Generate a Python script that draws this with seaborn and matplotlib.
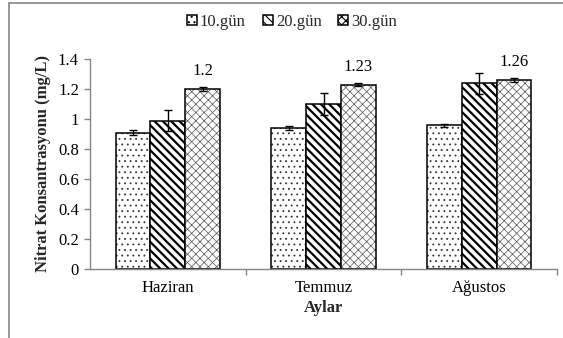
import matplotlib
matplotlib.use("Agg")
import matplotlib.pyplot as plt
import matplotlib.colors as mcolors
from matplotlib.patches import Patch
from matplotlib.lines import Line2D
import seaborn as sns
import pandas as pd

months = ["Haziran", "Temmuz", "Ağustos"]
days = ["10.gün", "20.gün", "30.gün"]
val_10 = [0.91, 0.94, 0.96]
val_20 = [0.99, 1.10, 1.24]
val_30 = [1.20, 1.23, 1.26]
err_10 = [0.015, 0.012, 0.010]
err_20 = [0.07, 0.07, 0.07]
err_30 = [0.015, 0.012, 0.015]
label_30 = ["1.2", "1.23", "1.26"]
yticks = [0, 0.2, 0.4, 0.6, 0.8, 1.0, 1.2, 1.4]
ytick_labels = ["0", "0.2", "0.4", "0.6", "0.8", "1", "1.2", "1.4"]

values = [val_10, val_20, val_30]
errors = [err_10, err_20, err_30]

df = pd.DataFrame({
    "Ay": months * 3,
    "Gün": [d for d in days for _ in months],
    "Deger": val_10 + val_20 + val_30,
})

sns.set_theme(style="white")
plt.rcParams["font.family"] = ["Liberation Serif", "DejaVu Serif"]
plt.rcParams["hatch.linewidth"] = 0.8

fig = plt.figure(figsize=(5.63, 3.38), dpi=100)
ax = fig.add_axes([90/563, 1-269/338, (557-90)/563, (269-59)/338])

sns.barplot(data=df, x="Ay", y="Deger", hue="Gün", order=months, hue_order=days,
            palette=["white", "white", "white"], width=0.67, gap=0, errorbar=None,
            legend=False, ax=ax, saturation=1)

bar_conts = list(ax.containers)

hatches = ["...", "\\\\\\\\", "xxxx"]
hatch_lw = [0.6, 1.6, 0.5]
hatch_col = ["#333333", "black", "#555555"]

for i, cont in enumerate(bar_conts):
    for p in cont.patches:
        p.set_facecolor("white")
        p.set_edgecolor("black")
        p.set_linewidth(1.1)
        p.set_hatch(hatches[i])
        if hasattr(p, "set_hatch_linewidth"):
            p.set_hatch_linewidth(hatch_lw[i])
        p._hatch_color = mcolors.to_rgba(hatch_col[i])
    xs = [p.get_x() + p.get_width()/2 for p in cont.patches]
    ax.errorbar(xs, values[i], yerr=errors[i], fmt="none", ecolor="black",
                elinewidth=1, capsize=3, capthick=1, zorder=5)

for p, lab in zip(bar_conts[2].patches, label_30):
    ax.annotate(lab, (p.get_x() + p.get_width()/2, p.get_height()),
                xytext=(0, 7), textcoords="offset points", ha="center", va="bottom",
                fontsize=12, color="black")

ax.set_ylim(0, 1.4)
ax.set_xlim(-0.5, 2.5)
ax.set_yticks(yticks)
ax.set_yticklabels(ytick_labels)
ax.set_xticks(range(len(months)))
ax.set_xticklabels(months)
ax.set_xticks([0.5, 1.5, 2.5], minor=True)

gray = "#868686"
for s in ["top", "right"]:
    ax.spines[s].set_visible(False)
for s in ["left", "bottom"]:
    ax.spines[s].set_color(gray)
    ax.spines[s].set_linewidth(1)

ax.tick_params(axis="y", which="major", direction="out", length=4, color=gray,
               width=1, labelsize=12, labelcolor="black", left=True, pad=4)
ax.tick_params(axis="x", which="major", length=0, labelsize=12, labelcolor="black", pad=8)
ax.tick_params(axis="x", which="minor", direction="out", length=4, color=gray, width=1, bottom=True)

ax.set_ylabel("Nitrat Konsantrasyonu (mg/L)", fontsize=12, fontweight="bold", labelpad=5)
ax.set_xlabel("Aylar", fontsize=12, fontweight="bold", labelpad=3)

handles = []
for i, d in enumerate(days):
    h = Patch(facecolor="white", edgecolor="black", hatch=hatches[i], linewidth=1.1, label=d)
    if hasattr(h, "set_hatch_linewidth"):
        h.set_hatch_linewidth(hatch_lw[i])
    handles.append(h)
fig.legend(handles=handles, loc="center", bbox_to_anchor=(292/563, 1-22/338), ncol=3,
           frameon=False, fontsize=12, handlelength=0.6, handleheight=0.6,
           handletextpad=0.2, columnspacing=1.0)

fig.add_artist(Line2D([9/563, 1], [1-3/338, 1-3/338], color=gray, lw=1.2, transform=fig.transFigure))
fig.add_artist(Line2D([9/563, 9/563], [0, 1-3/338], color=gray, lw=1.2, transform=fig.transFigure))

fig.savefig("out.png", dpi=100)
